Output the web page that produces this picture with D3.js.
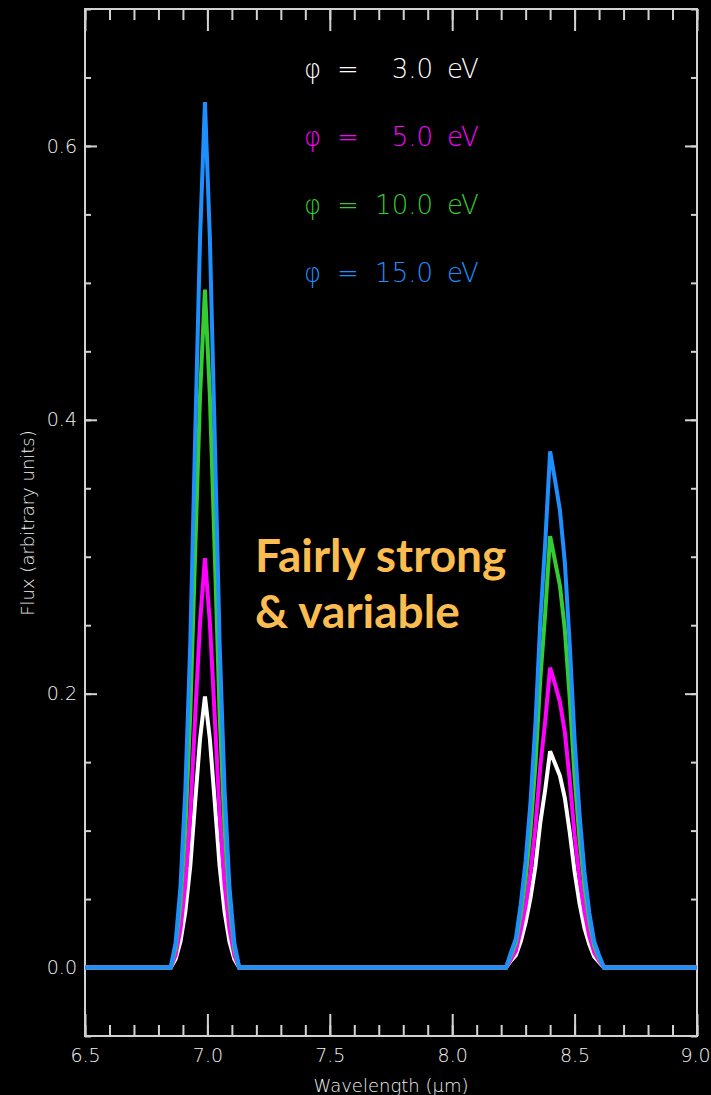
<!DOCTYPE html>
<html>
<head>
<meta charset="utf-8">
<script src="https://cdn.jsdelivr.net/npm/d3@7"></script>
<style>
  body { margin: 0; background: #000; }
  svg { display: block; }
</style>
</head>
<body>
<div class="svg-container"></div>
<script>
// wavelength grid (micrometres), shared by all four curves
var wavelength = [6.5,
  6.83, 6.85, 6.87, 6.89, 6.91, 6.93, 6.95, 6.97, 6.99, 7.01, 7.03, 7.05, 7.07, 7.09, 7.11, 7.13, 7.15,
  8.20, 8.22, 8.24, 8.26, 8.28, 8.30, 8.32, 8.34, 8.36, 8.38, 8.40, 8.42, 8.44, 8.46, 8.48, 8.50, 8.52, 8.54, 8.56, 8.58, 8.60, 8.62,
  9.0];

// flux, one list per work function
var flux3eV = [0,
  0, 0, 0.006, 0.019, 0.041, 0.074, 0.121, 0.167, 0.198, 0.167, 0.121, 0.074, 0.041, 0.019, 0.006, 0, 0,
  0, 0, 0.005, 0.009, 0.019, 0.033, 0.051, 0.074, 0.106, 0.130, 0.158, 0.149, 0.140, 0.124, 0.099, 0.070, 0.047, 0.029, 0.017, 0.008, 0.004, 0,
  0];
var flux5eV = [0,
  0, 0, 0.009, 0.028, 0.061, 0.112, 0.183, 0.252, 0.299, 0.252, 0.183, 0.112, 0.061, 0.028, 0.009, 0, 0,
  0, 0, 0.006, 0.012, 0.027, 0.045, 0.070, 0.103, 0.147, 0.180, 0.219, 0.207, 0.194, 0.172, 0.137, 0.097, 0.065, 0.041, 0.023, 0.011, 0.005, 0,
  0];
var flux10eV = [0,
  0, 0, 0.014, 0.047, 0.101, 0.185, 0.303, 0.418, 0.495, 0.418, 0.303, 0.185, 0.101, 0.047, 0.014, 0, 0,
  0, 0, 0.009, 0.018, 0.039, 0.065, 0.101, 0.148, 0.211, 0.259, 0.315, 0.297, 0.279, 0.247, 0.197, 0.139, 0.094, 0.059, 0.034, 0.016, 0.007, 0,
  0];
var flux15eV = [0,
  0, 0, 0.018, 0.059, 0.130, 0.236, 0.387, 0.533, 0.632, 0.533, 0.387, 0.236, 0.130, 0.059, 0.018, 0, 0,
  0, 0, 0.011, 0.021, 0.046, 0.078, 0.121, 0.178, 0.253, 0.310, 0.377, 0.356, 0.334, 0.296, 0.236, 0.166, 0.112, 0.070, 0.040, 0.019, 0.009, 0,
  0];

var seriesLabels = ["3.0", "5.0", "10.0", "15.0"];
var seriesColors = ["#ffffff", "#ff00ff", "#33cc33", "#1e8fff"];

var xTickValues = [6.5, 7.0, 7.5, 8.0, 8.5, 9.0];
var xTickLabels = ["6.5", "7.0", "7.5", "8.0", "8.5", "9.0"];
var yTickValues = [0.0, 0.2, 0.4, 0.6];
var yTickLabels = ["0.0", "0.2", "0.4", "0.6"];

var xTitle = "Wavelength (\u03bcm)";
var yTitle = "Flux (arbitrary units)";
var noteLines = ["Fairly strong", "& variable"];

var width = 711, height = 1095;
var plot = { left: 85, right: 697, top: 9, bottom: 1036 };
var axisColor = "#d2d2d2";
var labelColor = "#f2f2f2";
var tickFont = "'DejaVu Sans', sans-serif";

var svg = d3.select(".svg-container")
  .append("svg")
    .attr("width", width)
    .attr("height", height)
    .style("background", "#000");

var x = d3.scaleLinear().domain([6.5, 9.0]).range([plot.left, plot.right]);
var y = d3.scaleLinear().domain([-0.05, 0.7]).range([plot.bottom, plot.top]);

// minor ticks first, then major ticks with labels, on all four sides
var addAxis = function(axis, tx, ty) {
  var g = svg.append("g")
    .attr("transform", "translate(" + tx + "," + ty + ")")
    .call(axis);
  g.select(".domain").remove();
  g.selectAll("line").attr("stroke", axisColor).attr("stroke-width", 2);
  g.selectAll("text")
    .attr("fill", labelColor)
    .style("font-family", tickFont)
    .style("font-weight", 200)
    .style("font-size", "19px");
  return g;
};

var xMinor = x.ticks(25);
var yMinor = y.ticks(15);

addAxis(d3.axisBottom(x).tickValues(xMinor).tickSize(-11).tickFormat(""), 0, plot.bottom);
addAxis(d3.axisTop(x).tickValues(xMinor).tickSize(-11).tickFormat(""), 0, plot.top);
addAxis(d3.axisLeft(y).tickValues(yMinor).tickSize(-6).tickFormat(""), plot.left, 0);
addAxis(d3.axisRight(y).tickValues(yMinor).tickSize(-6).tickFormat(""), plot.right, 0);

var xLabelAxis = addAxis(d3.axisBottom(x).tickValues(xTickValues).tickSize(-22).tickPadding(13)
  .tickFormat(function(d, i) { return xTickLabels[i]; }), 0, plot.bottom);
// the last label sits on the window edge, nudge it inside
xLabelAxis.selectAll("text").filter(function(d) { return d === 9.0; }).attr("dx", -2);

addAxis(d3.axisTop(x).tickValues(xTickValues).tickSize(-22).tickFormat(""), 0, plot.top);
addAxis(d3.axisLeft(y).tickValues(yTickValues).tickSize(-12).tickPadding(8)
  .tickFormat(function(d, i) { return yTickLabels[i]; }), plot.left, 0);
addAxis(d3.axisRight(y).tickValues(yTickValues).tickSize(-12).tickFormat(""), plot.right, 0);

// frame
svg.append("rect")
  .attr("x", plot.left)
  .attr("y", plot.top)
  .attr("width", plot.right - plot.left)
  .attr("height", plot.bottom - plot.top)
  .attr("fill", "none")
  .attr("stroke", axisColor)
  .attr("stroke-width", 2);

// curves, weakest first so the 15 eV one sits on top
var series = [flux3eV, flux5eV, flux10eV, flux15eV].map(function(values, k) {
  return {
    label: seriesLabels[k],
    color: seriesColors[k],
    points: wavelength.map(function(w, i) { return [w, values[i]]; })
  };
});

var line = d3.line()
  .x(function(d) { return x(d[0]); })
  .y(function(d) { return y(d[1]); });

svg.append("g").attr("class", "curves")
  .selectAll("path")
  .data(series)
  .enter()
  .append("path")
    .attr("d", function(d) { return line(d.points); })
    .attr("fill", "none")
    .attr("stroke", function(d) { return d.color; })
    .attr("stroke-width", 4)
    .attr("stroke-linejoin", "miter");

// legend
var legend = svg.append("g").attr("class", "legend")
  .style("font-family", tickFont)
  .style("font-weight", 200)
  .style("font-size", "26px");

var legendRows = legend.selectAll("g")
  .data(series)
  .enter()
  .append("g")
    .attr("transform", function(d, i) { return "translate(0," + (78 + i * 68) + ")"; })
    .attr("fill", function(d) { return d.color; });

legendRows.append("text").attr("x", 304).text("\u03c6");
legendRows.append("text").attr("x", 337).text("=");
legendRows.append("text").attr("x", 433).attr("text-anchor", "end").text(function(d) { return d.label; });
legendRows.append("text").attr("x", 447).text("eV");

// axis titles
svg.append("text")
  .attr("x", 391)
  .attr("y", 1092)
  .attr("text-anchor", "middle")
  .attr("fill", labelColor)
  .style("font-family", tickFont)
  .style("font-weight", 200)
  .style("font-size", "18px")
  .text(xTitle);

svg.append("text")
  .attr("transform", "translate(34,523) rotate(-90)")
  .attr("text-anchor", "middle")
  .attr("fill", labelColor)
  .style("font-family", tickFont)
  .style("font-weight", 200)
  .style("font-size", "18px")
  .text(yTitle);

// orange note
svg.append("g")
  .selectAll("text")
  .data(noteLines)
  .enter()
  .append("text")
    .attr("x", 255)
    .attr("y", function(d, i) { return 572 + i * 56; })
    .attr("fill", "#fbbd4f")
    .style("font-family", "Lato, sans-serif")
    .style("font-weight", 700)
    .style("font-size", "46px")
    .text(function(d) { return d; });
</script>
</body>
</html>
